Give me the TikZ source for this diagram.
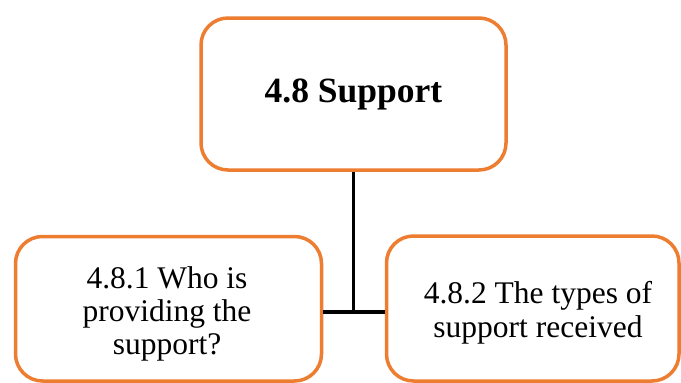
\documentclass[tikz,border=0pt]{standalone}
\usepackage{fontspec}
\setmainfont{Liberation Serif}
\newfontfamily\boxfont{Liberation Serif}
\definecolor{accentorange}{HTML}{ED7D31}
\begin{document}
\begin{tikzpicture}[x=1pt,y=-1pt,
  card/.style={draw=accentorange, line width=3.5pt, fill=white,
    rounded corners=27pt, inner sep=0pt},
  caption/.style={inner sep=0pt, align=center},
  link/.style={draw=black, line width=3.5pt}]
\useasboundingbox (0,0) rectangle (681,383);
\begin{scope}
\clip (0,0) rectangle (681,383);
% headline box
\node[card, minimum width=305pt, minimum height=152pt] (top) at (353.5,94) {};
% child boxes, running past the lower edge
\node[card, minimum width=306pt, minimum height=144.5pt] (left) at (168.5,308.75) {};
\node[card, minimum width=292.5pt, minimum height=145pt] (right) at (532.75,308.5) {};
\end{scope}
% box texts
\node[caption, font=\boxfont\fontsize{35.5}{40}\selectfont\bfseries,
  anchor=base] (toptext) at (353.5,102) {4.8 Support};
\node[caption, font=\boxfont\fontsize{31.5}{32.5}\selectfont,
  anchor=base] (lefttext) at (167,288) {4.8.1 Who is};
\node[caption, font=\boxfont\fontsize{31.5}{32.5}\selectfont,
  anchor=base] (lefttext2) at (167,321) {providing the};
\node[caption, font=\boxfont\fontsize{31.5}{32.5}\selectfont,
  anchor=base] (lefttext3) at (167,354) {support?};
\node[caption, font=\boxfont\fontsize{31.5}{34}\selectfont,
  anchor=base] (righttext) at (538,303) {4.8.2 The types of};
\node[caption, font=\boxfont\fontsize{31.5}{34}\selectfont,
  anchor=base] (righttext2) at (538,337) {support received};
% tree connector
\coordinate (j) at (353.5,312);
\draw[link] (top.south) -- (j);
\draw[link] (left.east |- j) -- (right.west |- j);
\end{tikzpicture}
\end{document}
